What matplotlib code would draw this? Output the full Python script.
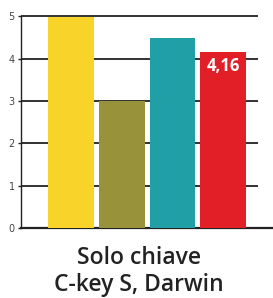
import matplotlib
matplotlib.use('Agg')
import matplotlib.pyplot as plt

# data
categories = ['A', 'B', 'C', 'D']
values = [5, 3, 4.5, 4.16]
colors = ['#F8D42A', '#98933B', '#20A0A6', '#E21F27']
label_text = '4,16'
y_ticks = [0, 1, 2, 3, 4, 5]
title = 'Solo chiave\nC-key S, Darwin'

fig = plt.figure(figsize=(2.73, 2.98), dpi=100)
ax = fig.add_axes([21 / 273, 70 / 298, 252 / 273, 211.5 / 298])

x = list(range(len(values)))
ax.bar(x, values, width=0.9, color=colors, zorder=3)

# gridlines (stop short of the right edge)
ax.hlines(y_ticks[1:], -0.986, 3.69, color='#222222', linewidth=1.3, zorder=2, clip_on=False)

ax.set_xlim(-0.986, 3.98)
ax.set_ylim(0, 5)
ax.set_yticks(y_ticks)
ax.set_xticks([])
ax.tick_params(axis='y', length=2.5, width=1, color='#222222', labelsize=7,
               labelcolor='#444444', pad=2)

for s in ['top', 'right']:
    ax.spines[s].set_visible(False)
ax.spines['left'].set_linewidth(1.0)
ax.spines['left'].set_color('#222222')
ax.spines['bottom'].set_linewidth(1.6)
ax.spines['bottom'].set_color('#222222')

# value label inside the red bar
ax.text(x[3], values[3] - 0.12, label_text, ha='center', va='top', color='white',
        fontsize=12, fontweight='bold', family='Open Sans', zorder=4)

fig.text(139 / 273, 1 - 246 / 298, title, ha='center', va='top', fontsize=16.5,
         fontweight='semibold', family='Open Sans', color='#222222', linespacing=1.15)

fig.savefig('out.png', dpi=100)
